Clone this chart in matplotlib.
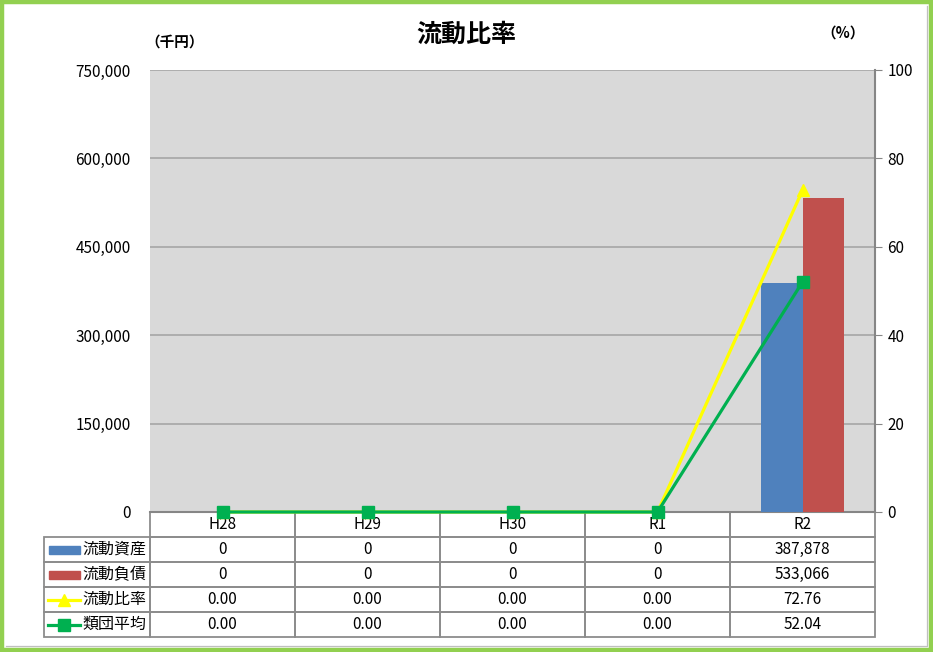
import matplotlib
matplotlib.use("Agg")
import matplotlib.pyplot as plt
from matplotlib.patches import Rectangle
from matplotlib.lines import Line2D
import numpy as np

plt.rcParams['font.family'] = ['Noto Sans CJK JP', 'DejaVu Sans']

categories = ["H28", "H29", "H30", "R1", "R2"]
assets = [0, 0, 0, 0, 387878]
liabilities = [0, 0, 0, 0, 533066]
ratio = [0.00, 0.00, 0.00, 0.00, 72.76]
group_avg = [0.00, 0.00, 0.00, 0.00, 52.04]
series_names = ["流動資産", "流動負債", "流動比率", "類団平均"]

W, H = 933, 652
def fx(p): return p / W
def fy(p): return 1 - p / H

fig = plt.figure(figsize=(W / 100, H / 100), dpi=100)
fig.patch.set_facecolor("white")

# outer green frame with a light shadow on the bottom/right inside
fig.patches.append(Rectangle((fx(2), fy(650)), fx(929), 648 / H, transform=fig.transFigure,
                             fill=False, edgecolor="#92D050", lw=3.2))
fig.add_artist(Line2D([fx(6), fx(927), fx(927)], [fy(646), fy(646), fy(6)],
                      transform=fig.transFigure, color="#BFBFBF", lw=0.9))

L, R, T, B = 150, 875, 70, 512
ax = fig.add_axes([fx(L), fy(B), fx(R - L), (B - T) / H])
ax.set_facecolor("#D9D9D9")
x = np.arange(len(categories))
bw = 0.285
ax.bar(x - bw / 2, assets, bw, color="#4F81BD", zorder=3)
ax.bar(x + bw / 2, liabilities, bw, color="#C0504D", zorder=3)
ax.set_xlim(-0.5, len(categories) - 0.5)
ax.set_ylim(0, 750000)
ax.set_yticks(np.arange(0, 750001, 150000))
ax.set_yticklabels([f"{v:,}" for v in range(0, 750001, 150000)], fontsize=11)
ax.set_xticks([])
ax.grid(axis="y", color="#A6A6A6", lw=1.2, zorder=0)
ax.tick_params(axis="y", length=0, pad=14)
for s in ["left", "top"]:
    ax.spines[s].set_visible(False)
ax.spines["bottom"].set_color("#868686")
ax.spines["bottom"].set_linewidth(1.5)
ax.spines["right"].set_visible(False)

ax2 = ax.twinx()
ax2.set_ylim(0, 100)
ax2.set_yticks(np.arange(0, 101, 20))
ax2.tick_params(axis="y", labelsize=11, length=5, color="#868686", pad=4)
for s in ["left", "top", "bottom"]:
    ax2.spines[s].set_visible(False)
ax2.spines["right"].set_color("#868686")
ax2.spines["right"].set_linewidth(1.5)
ax2.plot(x, ratio, color="#FFFF00", lw=2.3, marker="^", markersize=9, zorder=4, clip_on=False)
ax2.plot(x, group_avg, color="#00B050", lw=2.3, marker="s", markersize=8.5, zorder=5, clip_on=False)

# titles
fig.text(fx(466), fy(35), "流動比率", ha="center", va="center", fontsize=18, fontweight="bold")
fig.text(fx(175), fy(42), "（千円）", ha="center", va="center", fontsize=10.5, fontweight="bold")
fig.text(fx(843), fy(33), "（%）", ha="center", va="center", fontsize=10.5, fontweight="bold")

# data table
cell_text = [
    [""] + [f"{v:,}" for v in assets],
    [""] + [f"{v:,}" for v in liabilities],
    [""] + [f"{v:.2f}" for v in ratio],
    [""] + [f"{v:.2f}" for v in group_avg],
]
TL, TR, TB = 44, 875, 637
tot = TR - TL
colw = [106 / tot] + [145 / tot] * 5
bx0 = (TL - L) / (R - L)
bw_ax = tot / (R - L)
by0 = -(TB - B) / (B - T)
bh = (TB - B) / (B - T)
tbl = ax.table(cellText=cell_text, colLabels=[""] + categories, colWidths=colw,
               cellLoc="center", bbox=[bx0, by0, bw_ax, bh])
tbl.auto_set_font_size(False)
tbl.set_fontsize(11)
for (r, c), cell in tbl.get_celld().items():
    cell.set_edgecolor("#8C8C8C")
    cell.set_linewidth(1.3)
    cell.set_facecolor("none")
    if r == 0 and c == 0:
        cell.visible_edges = ""
    elif r == 0:
        cell.visible_edges = "BLR"

# legend keys in the table
row_centers = [549.5, 574.5, 599.5, 624.5]
for i, name in enumerate(series_names):
    yc = fy(row_centers[i])
    if i == 0:
        fig.patches.append(Rectangle((fx(49), yc - 4 / H), fx(31), 8 / H, transform=fig.transFigure,
                                     color="#4F81BD"))
    elif i == 1:
        fig.patches.append(Rectangle((fx(49), yc - 4 / H), fx(31), 8 / H, transform=fig.transFigure,
                                     color="#C0504D"))
    elif i == 2:
        fig.add_artist(Line2D([fx(48), fx(80)], [yc, yc], transform=fig.transFigure, color="#FFFF00",
                              lw=2.3))
        fig.add_artist(Line2D([fx(64)], [yc], transform=fig.transFigure, color="#FFFF00",
                              marker="^", markersize=9))
    else:
        fig.add_artist(Line2D([fx(48), fx(80)], [yc, yc], transform=fig.transFigure, color="#00B050",
                              lw=2.3))
        fig.add_artist(Line2D([fx(64)], [yc], transform=fig.transFigure, color="#00B050",
                              marker="s", markersize=8.5))
    fig.text(fx(82), yc, name, ha="left", va="center", fontsize=11.5)

fig.savefig("out.png", dpi=100)
